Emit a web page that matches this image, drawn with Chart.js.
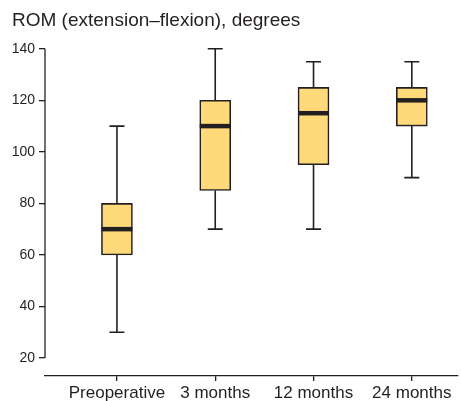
<!DOCTYPE html>
<html>
<head>
<meta charset="utf-8">
<script src="https://cdn.jsdelivr.net/npm/chart.js@4.4.1/dist/chart.umd.min.js"></script>
<style>
  html, body { margin: 0; padding: 0; background: #fff; }
  #wrap { width: 461px; height: 401px; }
</style>
</head>
<body>
<div id="wrap"><canvas id="c"></canvas></div>
<script>
  const categories = ["Preoperative", "3 months", "12 months", "24 months"];
  const whiskerLow = [30, 70, 70, 90];
  const boxLow = [60, 85, 95, 110];
  const medians = [70, 110, 115, 120];
  const boxHigh = [80, 120, 125, 125];
  const whiskerHigh = [110, 140, 135, 135];
  const yTicks = [20, 40, 60, 80, 100, 120, 140];

  const INK = "#231f20";
  const FILL = "#ffd97a";
  const FONT = "'Liberation Sans', Arial, Helvetica, sans-serif";

  // whiskers, caps, medians and the shortened y axis line
  const boxWhiskers = {
    id: "boxWhiskers",
    beforeDatasetsDraw(chart) {
      const { ctx, scales: { x, y }, chartArea } = chart;
      ctx.save();
      ctx.strokeStyle = INK;
      ctx.lineWidth = 1.6;
      categories.forEach((_, i) => {
        const px = x.getPixelForValue(i);
        const yl = y.getPixelForValue(whiskerLow[i]);
        const yh = y.getPixelForValue(whiskerHigh[i]);
        ctx.beginPath();
        ctx.moveTo(px, yl); ctx.lineTo(px, y.getPixelForValue(boxLow[i]));
        ctx.moveTo(px, y.getPixelForValue(boxHigh[i])); ctx.lineTo(px, yh);
        ctx.moveTo(px - 7.5, yl); ctx.lineTo(px + 7.5, yl);
        ctx.moveTo(px - 7.5, yh); ctx.lineTo(px + 7.5, yh);
        ctx.stroke();
      });
      ctx.lineWidth = 1.3;
      ctx.beginPath();
      ctx.moveTo(chartArea.left, y.getPixelForValue(yTicks[0]));
      ctx.lineTo(chartArea.left, y.getPixelForValue(yTicks[yTicks.length - 1]));
      ctx.stroke();
      ctx.restore();
    },
    afterDatasetsDraw(chart) {
      const { ctx, scales: { x, y } } = chart;
      ctx.save();
      ctx.strokeStyle = INK;
      ctx.lineWidth = 4.5;
      categories.forEach((_, i) => {
        const px = x.getPixelForValue(i);
        const py = y.getPixelForValue(medians[i]);
        ctx.beginPath();
        ctx.moveTo(px - 15.5, py); ctx.lineTo(px + 15.5, py);
        ctx.stroke();
      });
      ctx.restore();
    }
  };

  new Chart(document.getElementById("c"), {
    type: "bar",
    data: {
      datasets: [{
        data: categories.map((_, i) => ({ x: i, y: [boxLow[i], boxHigh[i]] })),
        backgroundColor: FILL,
        borderColor: INK,
        borderWidth: 1.6,
        borderSkipped: false,
        barThickness: 31,
      }],
    },
    options: {
      responsive: true,
      maintainAspectRatio: false,
      animation: false,
      devicePixelRatio: 1,
      layout: { padding: { left: 12, right: 3, top: 0, bottom: 0 } },
      plugins: {
        legend: { display: false },
        tooltip: { enabled: false },
        title: {
          display: true,
          text: "ROM (extension\u2013flexion), degrees",
          align: "start",
          color: INK,
          font: { family: FONT, size: 19, weight: "normal" },
          padding: { top: 9, bottom: 17 },
        },
      },
      scales: {
        x: {
          type: "linear",
          offset: false,
          min: -0.732,
          max: 3.47,
          afterBuildTicks: axis => { axis.ticks = categories.map((_, i) => ({ value: i })); },
          afterFit: s => { s.height = 25; },
          ticks: {
            callback: v => categories[v],
            color: INK,
            font: { family: FONT, size: 17 },
            padding: 2,
            autoSkip: false,
            maxRotation: 0,
          },
          grid: { offset: false, drawOnChartArea: false, drawTicks: true, tickLength: 5, color: INK, lineWidth: 1.3 },
          border: { display: true, color: INK, width: 1.3 },
        },
        y: {
          min: 13,
          max: 140,
          afterBuildTicks: axis => { axis.ticks = yTicks.map(v => ({ value: v })); },
          afterFit: s => { s.width = 33; },
          ticks: {
            color: INK,
            font: { family: FONT, size: 14 },
            padding: 4,
          },
          grid: { drawOnChartArea: false, drawTicks: true, tickLength: 6, color: INK, lineWidth: 1.3 },
          border: { display: false },
        },
      },
    },
    plugins: [boxWhiskers],
  });
</script>
</body>
</html>
